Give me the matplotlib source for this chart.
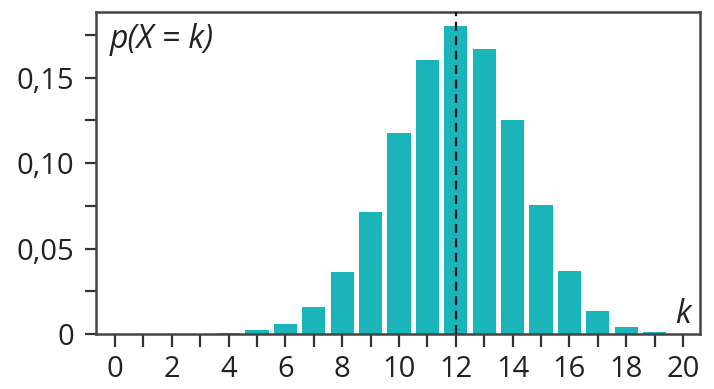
import matplotlib.pyplot as plt

# binomial-looking distribution, values
k = list(range(0, 21))
p = [0, 0, 0, 0, 0.0003, 0.0022, 0.0058, 0.0155, 0.036, 0.0713, 0.1175,
     0.160, 0.180, 0.1667, 0.125, 0.0754, 0.0368, 0.0134, 0.0042, 0.0012, 0.0001]

yticks = [0, 0.05, 0.10, 0.15]
ylabels = ['0', '0,05', '0,10', '0,15']
xticks = list(range(0, 21, 2))

plt.rcParams['font.family'] = ['Open Sans', 'DejaVu Sans']

fig = plt.figure(figsize=(7.14, 3.89), dpi=100)
ax = fig.add_axes([0.1345, 0.1414, 0.8459, 0.8276])

ax.bar(k, p, width=0.82, color='#1bb5b9', zorder=2)
ax.axvline(12, color='#111111', lw=1.6, ls=(0, (4, 2.5)), zorder=3)

ax.set_xlim(-0.67, 20.6)
ax.set_ylim(0, 0.1883)

ax.set_yticks(yticks)
ax.set_yticklabels(ylabels)
ax.set_yticks([0.025, 0.075, 0.125, 0.175], minor=True)
ax.set_xticks(k, minor=True)
ax.set_xticks(xticks)
ax.set_xticklabels([str(v) for v in xticks])

ax.tick_params(axis='both', which='both', direction='out', color='#333333',
               width=1.6, labelsize=21, labelcolor='#222222')
ax.tick_params(axis='y', which='both', length=8, pad=8)
ax.tick_params(axis='x', which='both', length=9, pad=6)

for s in ax.spines.values():
    s.set_color('#444444')
    s.set_linewidth(1.8)

ax.text(0.022, 0.965, 'p(X = k)', transform=ax.transAxes, style='italic',
        fontsize=23, color='#222222', ha='left', va='top')
ax.text(0.985, 0.01, 'k', transform=ax.transAxes, style='italic',
        fontsize=23, color='#222222', ha='right', va='bottom')

fig.savefig('out.png', dpi=100)
